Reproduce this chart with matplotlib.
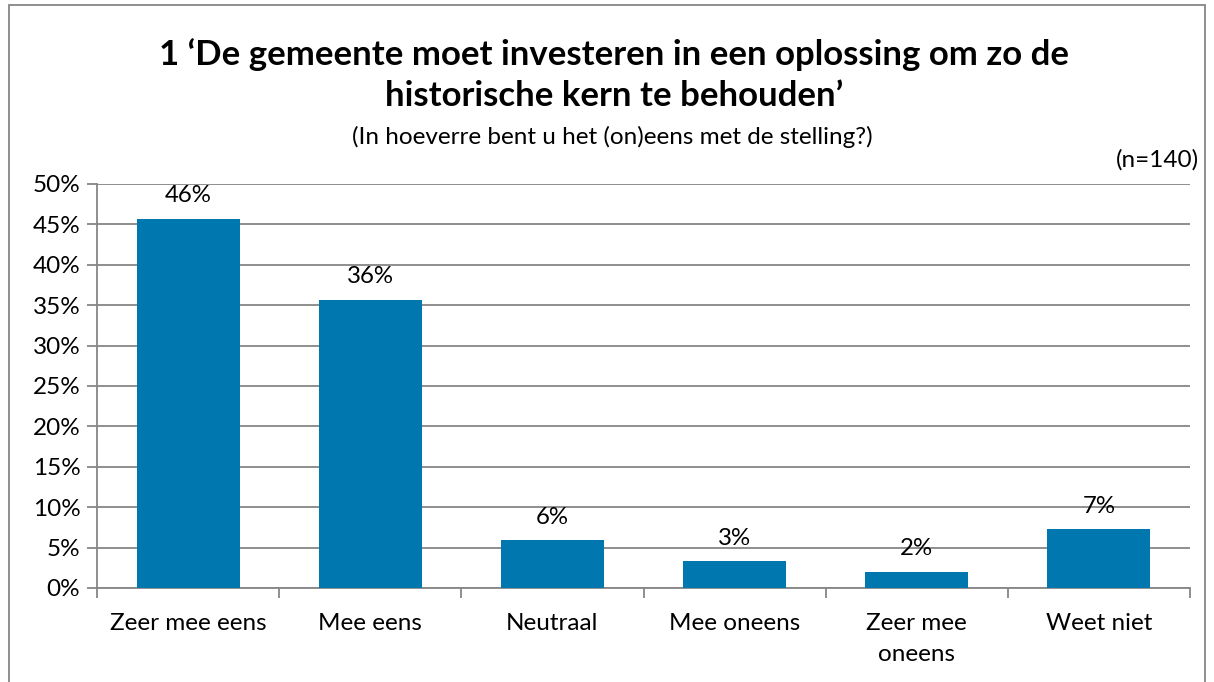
import matplotlib
matplotlib.use("Agg")
import matplotlib.pyplot as plt
from matplotlib.patches import Rectangle

categories = ["Zeer mee eens", "Mee eens", "Neutraal", "Mee oneens", "Zeer mee\noneens", "Weet niet"]
values = [45.7, 35.7, 5.9, 3.3, 2.0, 7.3]
labels = ["46%", "36%", "6%", "3%", "2%", "7%"]
yticks = [0, 5, 10, 15, 20, 25, 30, 35, 40, 45, 50]
ytick_labels = [f"{t}%" for t in yticks]

plt.rcParams['font.family'] = ['Lato', 'DejaVu Sans']

fig = plt.figure(figsize=(12.14, 6.82), dpi=100)
ax = fig.add_axes([97/1214, 1-588/682, (1190-97)/1214, (588-184)/682])

x = list(range(len(categories)))
bars = ax.bar(x, values, width=0.566, color="#0077AE", zorder=3)
for xi, v, lab in zip(x, values, labels):
    ax.annotate(lab, (xi, v), xytext=(0, 9), textcoords="offset points",
                ha="center", va="bottom", fontsize=17.3, color="black")

ax.set_xlim(-0.5, len(categories) - 0.5)
ax.set_ylim(0, 50)
ax.set_yticks(yticks)
ax.set_yticklabels(ytick_labels, fontsize=17.5)
ax.set_xticks(x)
ax.set_xticklabels(categories, fontsize=17.5, linespacing=1.6)
ax.tick_params(axis="x", length=0, pad=18)
ax.set_xticks([i - 0.5 for i in range(len(categories) + 1)], minor=True)
ax.tick_params(axis="x", which="minor", length=7, color="#868686", width=1.3)
ax.tick_params(axis="y", length=7, color="#868686", width=1.3, pad=5)
ax.yaxis.grid(True, color="#868686", linewidth=1.3, zorder=0)
for s in ["top", "right"]:
    ax.spines[s].set_visible(False)
for s in ["left", "bottom"]:
    ax.spines[s].set_color("#868686")
    ax.spines[s].set_linewidth(1.3)

fig.text(0.506, 1-75/682, "1 ‘De gemeente moet investeren in een oplossing om zo de\nhistorische kern te behouden’",
         ha="center", va="center", fontsize=25, fontweight="bold", linespacing=1.35)
fig.text(0.504, 1-137/682, "(In hoeverre bent u het (on)eens met de stelling?)",
         ha="center", va="center", fontsize=17.5)
fig.text(1199/1214, 1-160/682, "(n=140)", ha="right", va="center", fontsize=17.5)

fig.patches.append(Rectangle((9/1214, -0.01), (1205-9)/1214, 1-5/682 + 0.01, transform=fig.transFigure,
                             fill=False, edgecolor="#868686", linewidth=1.3))

fig.savefig("out.png", dpi=100)
